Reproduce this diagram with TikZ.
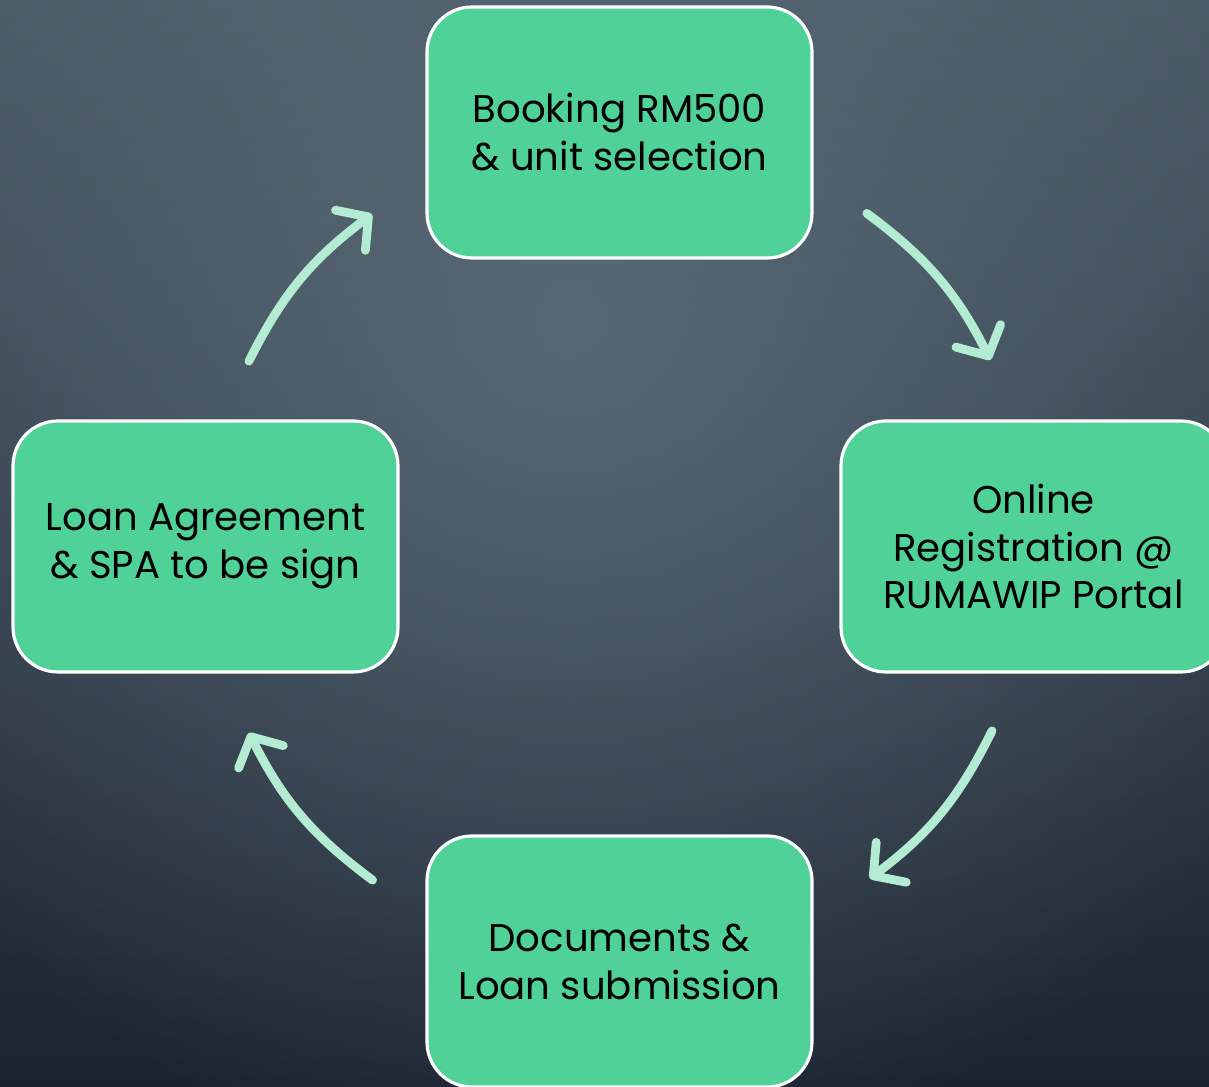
\documentclass[tikz,border=0pt]{standalone}
\usepackage{fontspec}
\setmainfont{Poppins}
\usetikzlibrary{arrows.meta}
\usetikzlibrary{calc}
\usetikzlibrary{fadings}

\definecolor{bgtop}{HTML}{4A5964}
\definecolor{bgmid}{HTML}{36434E}
\definecolor{bgbot}{HTML}{1C2330}
\definecolor{bgspot}{HTML}{5B6E7A}
\definecolor{stepgreen}{HTML}{4FD197}
\definecolor{flowmint}{HTML}{B3ECD3}
\tikzfading[name=spotfade, inner color=transparent!15, outer color=transparent!100]

\tikzset{
	stepbox/.style={shape=rectangle,draw=white,line width=1.8pt,fill=stepgreen,rounded corners=0.9cm,
		minimum width=7.7cm,minimum height=5.02cm,align=center,font=\fontsize{22}{27.3}\selectfont},
	flow/.style={draw=flowmint,line width=5pt,line cap=round,-{Straight Barb[length=0.45cm,width=1.0cm,line cap=round,round]}}
}

\begin{document}
\begin{tikzpicture}
	\clip (0,0) rectangle (24.18,21.74);
	% background
	\fill[top color=bgtop,middle color=bgmid,bottom color=bgbot] (0,0) rectangle (24.18,21.74);
	\coordinate (spot) at (11.4,15.14);
	\fill[bgspot,path fading=spotfade] ($(spot)+(-17,-17)$) rectangle ($(spot)+(17,17)$);
	% steps
	\draw (12.39,19.09) node (booking) [stepbox] {Booking RM500\\ \& unit selection};
	\draw (20.67,10.81) node (online) [stepbox] {Online\\ Registration @\\ RUMAWIP Portal};
	\draw (12.39,2.51) node (docs) [stepbox] {Documents \&\\ Loan submission};
	\draw (4.11,10.81) node (loan) [stepbox] {Loan Agreement\\ \& SPA to be sign};
	% cycle arrows
	\coordinate (ctr) at (12.4,10.8);
	\coordinate (bo1) at ($(ctr)+(53.5:8.3)$);
	\coordinate (bo2) at ($(ctr)+(26.8:8.3)$);
	\coordinate (on1) at ($(ctr)+(-26.3:8.3)$);
	\coordinate (on2) at ($(ctr)+(-53:8.3)$);
	\coordinate (do1) at ($(ctr)+(-126.6:8.3)$);
	\coordinate (do2) at ($(ctr)+(-153.4:8.3)$);
	\coordinate (lo1) at ($(ctr)+(153.4:8.3)$);
	\coordinate (lo2) at ($(ctr)+(126.7:8.3)$);
	\draw[flow] (bo1) to[bend left=13.4] (bo2);
	\draw[flow] (on1) to[bend left=13.4] (on2);
	\draw[flow] (do1) to[bend left=13.4] (do2);
	\draw[flow] (lo1) to[bend left=13.4] (lo2);
\end{tikzpicture}
\end{document}
